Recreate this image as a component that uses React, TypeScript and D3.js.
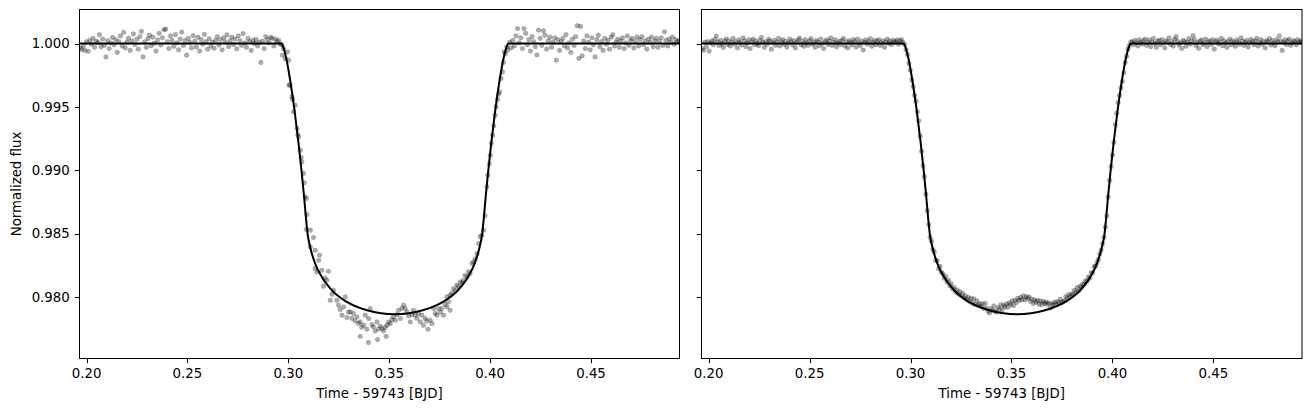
import React from "react";
import * as d3 from "d3";

const W = 1311;
const H = 411;
const FONT = '"DejaVu Sans", "Liberation Sans", sans-serif';

const xTickValues = [0.2, 0.25, 0.3, 0.35, 0.4, 0.45];
const yTickValues = [0.98, 0.985, 0.99, 0.995, 1.0];
const xLimits: [number, number] = [0.1965, 0.49385];
const yLimits: [number, number] = [0.975137, 1.002684];
const xLabel = "Time - 59743 [BJD]";
const yLabel = "Normalized flux";

// transit model
const modelTime = [0.196, 0.2966, 0.2975, 0.299, 0.301, 0.303, 0.305, 0.3065, 0.3078, 0.3088, 0.3096, 0.3108, 0.3133, 0.3166, 0.3216, 0.329, 0.339, 0.3528, 0.3666, 0.3766, 0.384, 0.389, 0.3923, 0.3948, 0.396, 0.3968, 0.3978, 0.3991, 0.4006, 0.4026, 0.4046, 0.4066, 0.4081, 0.409, 0.495];
const modelFlux = [1.0, 1.0, 0.99972, 0.9988, 0.997, 0.9948, 0.9922, 0.99, 0.9879, 0.9861, 0.9849, 0.98394, 0.98263, 0.98157, 0.98052, 0.9796, 0.97894, 0.97863, 0.97894, 0.9796, 0.98052, 0.98157, 0.98263, 0.98394, 0.9849, 0.9861, 0.9879, 0.99, 0.9922, 0.9948, 0.997, 0.9988, 0.99972, 1.0, 1.0];

// left panel observations [time, flux]
const leftObs: [number, number][] = [
  [0.1968,0.99965],[0.1976,0.99952],[0.1984,0.9998],[0.1992,0.99945],[0.2,1.00012],[0.2008,0.99938],[0.2016,1.00025],[0.2024,0.99995],[0.2032,1.0004],[0.204,0.9997],
  [0.2048,1.00018],[0.2056,1.00008],[0.2064,1.0007],[0.2072,0.99975],[0.208,1.00035],[0.2088,0.99985],[0.2096,0.99894],[0.2104,1.00022],[0.2112,0.9996],[0.212,1.00005],
  [0.2128,1.00048],[0.2136,0.9999],[0.2144,1.0003],[0.2152,0.9993],[0.216,1.00015],[0.2168,1.0006],[0.2176,0.9998],[0.2184,1.00088],[0.2192,0.99965],[0.22,1.0001],
  [0.2208,1.00042],[0.2216,0.99945],[0.2224,1.0002],[0.2232,1.00075],[0.224,0.99992],[0.2248,1.00032],[0.2256,0.99955],[0.2264,1.00055],[0.2272,1.00095],[0.228,0.99894],
  [0.2288,1.00012],[0.2296,0.9997],[0.2304,1.00038],[0.2312,1.00065],[0.232,0.99982],[0.2328,1.0005],[0.2336,1.00002],[0.2344,0.9994],[0.2352,1.00028],[0.236,1.0008],
  [0.2368,0.99988],[0.2376,1.00045],[0.2384,1.00108],[0.2392,1.00113],[0.24,1.00015],[0.2408,0.9996],[0.2416,1.0006],[0.2424,1.00025],[0.2432,0.99978],[0.244,1.0007],
  [0.2448,1.00005],[0.2456,0.9995],[0.2464,1.00035],[0.2472,1.0009],[0.248,0.99985],[0.2488,1.00022],[0.2496,0.99908],[0.2504,1.0004],[0.2512,1.00008],[0.252,0.99965],
  [0.2528,1.00062],[0.2536,1.00018],[0.2544,0.99972],[0.2552,1.0005],[0.256,0.9994],[0.2568,1.0003],[0.2576,0.99995],[0.2584,1.00072],[0.2592,1.00015],[0.26,0.99955],
  [0.2608,1.00038],[0.2616,0.9998],[0.2624,1.0001],[0.2632,0.99962],[0.264,1.00025],[0.2648,1.00055],[0.2656,0.99988],[0.2664,1.0003],[0.2672,0.9995],[0.268,1.00045],
  [0.2688,1.00012],[0.2696,1.00068],[0.2704,0.99975],[0.2712,1.0002],[0.272,1.0005],[0.2728,0.99992],[0.2736,1.00035],[0.2744,0.99958],[0.2752,1.0006],[0.276,1.00022],
  [0.2768,0.99985],[0.2776,1.00078],[0.2784,1.00005],[0.2792,0.9997],[0.28,1.0004],[0.2808,1.00015],[0.2816,0.99945],[0.2824,1.00025],[0.2832,1.0],[0.284,1.00032],
  [0.2848,0.9998],[0.2856,1.0001],[0.2864,0.9985],[0.2872,1.00018],[0.288,0.9996],[0.2888,1.00055],[0.2896,1.0003],[0.2904,1.00005],[0.2912,1.00048],[0.292,1.0004],
  [0.2928,0.9998],[0.2936,1.00035],[0.2944,1.00015],[0.2952,1.00025],[0.296,0.99995],
  [0.2968,0.9999],[0.2971,0.99908],[0.2976,0.9996],[0.2984,0.9988],[0.2996,0.99934],[0.3001,0.99868],[0.3003,0.99671],[0.3009,0.99671],[0.3018,0.99578],[0.3021,0.9956],
  [0.3026,0.9946],[0.3034,0.99513],[0.3043,0.99329],[0.3047,0.9928],[0.3051,0.99263],[0.3059,0.99158],[0.3064,0.991],[0.3067,0.99065],[0.3075,0.98974],[0.3079,0.989],
  [0.3084,0.9879],[0.3089,0.98776],
  [0.3089,0.98532],[0.3092,0.9865],[0.3109,0.98526],[0.3125,0.98468],[0.3109,0.98394],[0.3133,0.98368],[0.3155,0.98329],[0.315,0.98289],[0.3133,0.98224],[0.3142,0.98197],
  [0.3166,0.9821],[0.3199,0.98202],[0.3191,0.98131],[0.3174,0.98084],[0.3182,0.9815],[0.3224,0.98052],[0.3208,0.97973],[0.3216,0.9802],[0.3241,0.97973],[0.3249,0.97934],
  [0.3282,0.98],[0.3257,0.979],[0.3266,0.97855],[0.3274,0.9792],[0.329,0.97837],[0.3298,0.9788],[0.3307,0.97881],[0.3315,0.9783],[0.3323,0.97868],[0.3331,0.9781],
  [0.334,0.97842],[0.3348,0.9779],[0.3356,0.97802],[0.3364,0.9776],[0.3373,0.97776],[0.3381,0.97855],[0.3389,0.97745],[0.3406,0.97908],[0.3398,0.97829],[0.3414,0.9778],
  [0.3422,0.97763],[0.343,0.9773],[0.3439,0.97802],[0.3356,0.97689],[0.3397,0.9764],[0.3442,0.97663],[0.3447,0.97745],[0.3455,0.9777],[0.3464,0.9775],[0.3472,0.97731],
  [0.348,0.9776],[0.3485,0.97689],[0.3489,0.97776],[0.3497,0.978],[0.3505,0.97789],[0.3513,0.9782],[0.3521,0.97842],[0.353,0.97815],[0.3538,0.9786],[0.3546,0.97894],
  [0.3555,0.97829],[0.3563,0.9791],[0.3571,0.97934],[0.3579,0.97908],[0.3588,0.97881],[0.3596,0.9785],[0.3604,0.97802],[0.3612,0.9786],[0.362,0.97894],[0.3629,0.97855],
  [0.3637,0.9783],[0.3645,0.97868],[0.3654,0.97802],[0.3662,0.97855],[0.367,0.97776],[0.3678,0.9783],[0.3686,0.9781],[0.3692,0.97744],[0.3703,0.97815],[0.3712,0.97789],
  [0.372,0.97908],[0.3728,0.9787],[0.3736,0.97855],[0.3744,0.97908],[0.3753,0.9788],[0.3761,0.97908],[0.3769,0.97855],[0.3777,0.9794],[0.3786,0.97921],[0.3794,0.9796],
  [0.3786,0.98],[0.3802,0.97894],[0.3802,0.98013],[0.381,0.9803],[0.3819,0.98066],[0.3827,0.9805],[0.3835,0.98092],[0.3843,0.9808],[0.3852,0.98118],[0.386,0.9811],
  [0.3868,0.98131],[0.3876,0.9817],[0.3885,0.98157],[0.3893,0.982],[0.3901,0.98184],[0.391,0.98263],[0.3918,0.98276],[0.3926,0.983],[0.3935,0.98342],[0.3943,0.98421],
  [0.3951,0.98473],[0.3959,0.98487],[0.3967,0.98526],
  [0.3975,0.9864],[0.3984,0.98868],[0.3989,0.9896],[0.3996,0.9905],[0.4001,0.99118],[0.4006,0.99211],[0.4012,0.99276],[0.4018,0.9935],[0.4025,0.99434],[0.403,0.995],
  [0.4037,0.99558],[0.4042,0.996],[0.4047,0.99618],[0.4054,0.99724],[0.4061,0.99776],[0.4066,0.9985],[0.407,0.99934],[0.4076,0.9992],[0.4083,0.99973],[0.4088,0.9995],
  [0.4096,1.0001],[0.4104,0.99965],[0.4112,1.00025],[0.412,0.9998],[0.4128,1.0006],[0.4136,1.00118],[0.4144,1.00005],[0.4152,1.00045],[0.416,0.9996],[0.4168,1.00118],
  [0.4176,1.0008],[0.4184,0.9999],[0.4192,1.0003],[0.42,0.9994],[0.4208,1.00055],[0.4216,1.00015],[0.4224,0.99975],[0.4232,0.9991],[0.424,1.00105],[0.4248,1.0004],
  [0.4256,0.99985],[0.4264,1.001],[0.4272,1.00065],[0.428,0.99955],[0.4288,1.0002],[0.4296,1.0005],[0.4304,0.9997],[0.4312,1.0001],[0.432,1.00045],[0.4328,0.99868],
  [0.4336,1.0003],[0.4344,0.99945],[0.4352,1.00015],[0.436,1.0004],[0.4368,0.9998],[0.4376,1.0007],[0.4384,0.99965],[0.4392,1.00005],[0.44,0.9993],[0.4408,1.00035],
  [0.4416,0.99985],[0.4424,1.00055],[0.4432,1.0014],[0.444,0.99882],[0.4448,1.00135],[0.4456,0.99903],[0.4464,1.0002],[0.4472,0.9996],[0.448,1.0006],[0.4488,1.0001],
  [0.4496,0.9995],[0.4504,1.00045],[0.4512,0.9999],[0.452,0.99894],[0.4528,1.0003],[0.4536,1.00065],[0.4544,0.99975],[0.4552,1.00015],[0.456,0.99945],[0.4568,1.0004],
  [0.4576,0.99995],[0.4584,1.00025],[0.4592,0.99955],[0.46,1.0005],[0.4608,1.0007],[0.4616,0.9998],[0.4624,1.0001],[0.4632,1.00035],[0.464,0.9997],[0.4648,1.0002],
  [0.4656,1.00045],[0.4664,0.9996],[0.4672,1.00005],[0.468,1.0006],[0.4688,0.99985],[0.4696,1.00025],[0.4704,1.0004],[0.4712,0.99965],[0.472,1.00015],[0.4728,1.0005],
  [0.4736,0.9998],[0.4744,1.0003],[0.4752,1.00055],[0.476,0.9999],[0.4768,1.0002],[0.4776,0.99955],[0.4784,1.00035],[0.4792,1.0001],[0.48,1.0005],[0.4808,0.99975],
  [0.4816,1.0002],[0.4824,1.0004],[0.4832,0.9997],[0.484,1.00015],[0.4848,1.00045],[0.4856,0.99985],[0.4864,1.00092],[0.4872,1.00025],[0.488,0.9998],[0.4888,1.00035],
  [0.4896,1.0001],[0.4904,1.0005],[0.4912,0.99995],[0.492,1.0003],[0.4928,1.00015],[0.4936,1.0002],
];

// right panel observations [time, flux]
const rightObs: [number, number][] = [
  [0.1968,0.9996],[0.1975,0.99945],[0.1982,1.0001],[0.1989,0.99975],[0.1996,1.00015],[0.2003,0.9994],[0.201,1.00005],[0.2017,1.0002],[0.2024,0.9999],[0.2031,1.0003],
  [0.2038,1.00058],[0.2045,1.00012],[0.2052,0.99985],[0.2059,1.00025],[0.2066,1.0],[0.2073,0.9997],[0.208,1.00018],[0.2087,1.00035],[0.2094,0.99992],[0.2101,1.00022],
  [0.2108,0.9998],[0.2115,1.0001],[0.2122,1.0004],[0.2129,0.99995],[0.2136,1.00015],[0.2143,0.99965],[0.215,1.00028],[0.2157,1.00008],[0.2164,0.99988],[0.2171,1.00045],
  [0.2178,1.0002],[0.2185,0.99975],[0.2192,1.00005],[0.2199,1.0003],[0.2206,0.9996],[0.2213,1.00015],[0.222,1.00035],[0.2227,0.9999],[0.2234,1.0002],[0.2241,1.0],
  [0.2248,0.99982],[0.2255,1.00025],[0.2262,1.00048],[0.2269,1.0001],[0.2276,0.9997],[0.2283,1.00015],[0.229,0.99995],[0.2297,1.00032],[0.2304,1.0002],[0.2311,0.99955],
  [0.2318,1.00005],[0.2325,1.00025],[0.2332,0.99985],[0.2339,1.0001],[0.2346,1.0004],[0.2353,0.9998],[0.236,1.00012],[0.2367,1.0003],[0.2374,0.99992],[0.2381,1.00018],
  [0.2388,0.99972],[0.2395,1.00005],[0.2402,1.00035],[0.2409,1.00015],[0.2416,0.99988],[0.2423,1.00022],[0.243,0.99965],[0.2437,1.00008],[0.2444,1.00028],[0.2451,1.00042],
  [0.2458,0.9999],[0.2465,1.00015],[0.2472,0.99978],[0.2479,1.0003],[0.2486,1.00005],[0.2493,0.99985],[0.25,1.0002],[0.2507,1.00038],[0.2514,0.99995],[0.2521,1.00012],
  [0.2528,0.9997],[0.2535,1.00025],[0.2542,1.0001],[0.2549,0.99982],[0.2556,1.00035],[0.2563,1.0],[0.257,0.9996],[0.2577,1.00015],[0.2584,1.00028],[0.2591,0.99992],
  [0.2598,1.0002],[0.2605,1.00045],[0.2612,0.99985],[0.2619,1.0001],[0.2626,1.0003],[0.2633,0.99975],[0.264,1.00005],[0.2647,1.00018],[0.2654,0.9999],[0.2661,1.00025],
  [0.2668,1.0004],[0.2675,0.9998],[0.2682,1.00012],[0.2689,0.99965],[0.2696,1.00022],[0.2703,1.00008],[0.271,0.99988],[0.2717,1.0003],[0.2724,1.00015],[0.2731,0.99972],
  [0.2738,1.00035],[0.2745,1.00005],[0.2752,0.99982],[0.2759,1.0002],[0.2766,0.99948],[0.2773,1.0001],[0.278,1.00028],[0.2787,0.99995],[0.2794,1.00015],[0.2801,1.00038],
  [0.2808,0.99978],[0.2815,1.00008],[0.2822,1.00025],[0.2829,0.9999],[0.2836,1.00018],[0.2843,1.0003],[0.285,0.99985],[0.2857,1.00005],[0.2864,1.00022],[0.2871,0.9997],
  [0.2878,1.00012],[0.2885,1.00035],[0.2892,1.0],[0.2899,1.00018],[0.2906,0.99992],[0.2913,1.00025],[0.292,1.0001],[0.2927,1.00015],[0.2934,1.00028],[0.2941,0.99995],
  [0.2948,1.0002],[0.2955,1.0003],[0.2962,1.0001],
  [0.2971,0.99992],[0.2978,0.9995],[0.2985,0.99912],[0.2992,0.99842],[0.2999,0.9979],[0.3006,0.99712],[0.3013,0.9966],[0.302,0.9959],[0.3027,0.99545],[0.3034,0.9946],
  [0.3041,0.9939],[0.3048,0.9927],[0.3055,0.9915],[0.3062,0.99035],[0.3069,0.9895],[0.3076,0.9881],[0.3083,0.9868],
  [0.309,0.9857],[0.3097,0.9847],[0.3104,0.9844],[0.3111,0.98372],[0.3118,0.98355],[0.3125,0.98288],[0.3132,0.98285],[0.3139,0.98222],[0.3146,0.9824],[0.3153,0.98195],
  [0.316,0.98182],[0.3167,0.98148],[0.3174,0.98162],[0.3181,0.98118],[0.3188,0.98132],[0.3195,0.98088],[0.3202,0.98102],[0.3209,0.98062],[0.3216,0.98072],
  [0.3223,0.98038],[0.323,0.98055],[0.3237,0.98022],[0.3244,0.98042],[0.3251,0.98008],[0.3258,0.98028],[0.3265,0.97992],[0.3272,0.98008],[0.3279,0.97978],[0.3286,0.97995],
  [0.3293,0.97962],[0.33,0.97988],[0.3307,0.97948],[0.3314,0.97985],[0.3321,0.97938],[0.3328,0.97968],[0.3335,0.97932],[0.3342,0.97948],[0.3349,0.97925],[0.3356,0.97945],
  [0.3363,0.97908],[0.337,0.97948],[0.3377,0.97912],[0.3384,0.97888],
  [0.3391,0.97872],[0.3398,0.97908],[0.3405,0.97892],[0.3412,0.97928],[0.3419,0.97888],[0.3426,0.97878],[0.3433,0.97918],[0.344,0.97902],[0.3447,0.97938],[0.3454,0.97898],
  [0.3461,0.97932],[0.3468,0.97922],[0.3475,0.97945],[0.3482,0.97918],[0.3489,0.97952],[0.3496,0.97938],[0.3503,0.97968],[0.351,0.97932],[0.3517,0.97972],[0.3524,0.97955],
  [0.3531,0.97988],[0.3538,0.97972],[0.3545,0.97995],[0.3552,0.97978],[0.3559,0.98008],[0.3566,0.97975],[0.3573,0.98002],[0.358,0.97988],[0.3587,0.98],[0.3594,0.97965],
  [0.3601,0.97982],[0.3608,0.97948],[0.3615,0.97975],[0.3622,0.97958],[0.3629,0.97972],[0.3636,0.97942],[0.3643,0.97968],[0.365,0.9794],[0.3657,0.97965],[0.3664,0.97948],
  [0.3671,0.97958],[0.3678,0.97942],[0.3685,0.97952],[0.3692,0.97912],[0.3699,0.97945],[0.3706,0.97938],[0.3713,0.97958],[0.372,0.97942],[0.3727,0.97962],[0.3734,0.97952],
  [0.3741,0.97982],[0.3748,0.97955],[0.3755,0.97962],[0.3762,0.97968],[0.3769,0.98002],[0.3776,0.97988],[0.3783,0.98018],[0.379,0.98002],[0.3797,0.98022],[0.3804,0.98018],
  [0.3811,0.98052],[0.3818,0.98038],[0.3825,0.98072],[0.3832,0.98045],[0.3839,0.98082],[0.3846,0.98075],[0.3853,0.98102],[0.386,0.98098],[0.3867,0.98128],[0.3874,0.98122],
  [0.3881,0.98158],[0.3888,0.98148],[0.3895,0.98192],[0.3902,0.98188],[0.3909,0.98238],[0.3916,0.98242],
  [0.3923,0.9827],[0.393,0.98295],[0.3937,0.9834],[0.3944,0.9837],
  [0.3951,0.9842],[0.3958,0.9847],[0.3965,0.9855],[0.3972,0.9864],[0.3979,0.9879],[0.3986,0.9892],[0.3993,0.9903],[0.4,0.9912],[0.4007,0.9922],[0.4014,0.9936],
  [0.4021,0.9945],[0.4028,0.99535],[0.4035,0.9959],[0.4042,0.9965],[0.4049,0.997],[0.4056,0.9977],[0.4063,0.9985],[0.407,0.999],[0.4077,0.99955],[0.4084,0.99985],
  [0.4091,1.0001],
  [0.4098,1.00015],[0.4105,0.9999],[0.4112,1.00025],[0.4119,1.00005],[0.4126,0.9998],[0.4133,1.0003],[0.414,1.0001],[0.4147,0.99995],[0.4154,1.0002],[0.4161,1.00035],
  [0.4168,0.99985],[0.4175,1.00008],[0.4182,1.00028],[0.4189,0.99975],[0.4196,1.00012],[0.4203,1.0004],[0.421,1.0],[0.4217,0.9997],[0.4224,1.00018],[0.4231,1.00025],
  [0.4238,0.9999],[0.4245,1.0003],[0.4252,1.00005],[0.4259,0.99965],[0.4266,1.00022],[0.4273,1.0001],[0.428,1.00045],[0.4287,0.99992],[0.4294,1.00015],[0.4301,0.9998],
  [0.4308,1.00032],[0.4315,1.00055],[0.4322,1.0002],[0.4329,0.99988],[0.4336,1.00005],[0.4343,0.9996],[0.435,1.00025],[0.4357,1.00015],[0.4364,0.99978],[0.4371,1.0001],
  [0.4378,1.00038],[0.4385,0.99995],[0.4392,1.0002],[0.4399,1.00062],[0.4406,1.0003],[0.4413,0.99985],[0.442,1.00008],[0.4427,0.99962],[0.4434,1.00018],[0.4441,1.00028],
  [0.4448,0.9999],[0.4455,1.00005],[0.4462,1.00035],[0.4469,0.99975],[0.4476,1.00012],[0.4483,1.0002],[0.449,0.99992],[0.4497,1.0003],[0.4504,0.99955],[0.4511,1.00015],
  [0.4518,1.00025],[0.4525,0.99995],[0.4532,1.0001],[0.4539,1.0004],[0.4546,0.99982],[0.4553,1.00022],[0.456,1.00005],[0.4567,0.9997],[0.4574,1.00015],[0.4581,1.00035],
  [0.4588,0.9999],[0.4595,1.0002],[0.4602,1.00008],[0.4609,0.99978],[0.4616,1.00028],[0.4623,1.00012],[0.463,0.99995],[0.4637,1.00045],[0.4644,1.00018],[0.4651,0.99985],
  [0.4658,1.0001],[0.4665,1.00025],[0.4672,0.99972],[0.4679,1.00005],[0.4686,1.00032],[0.4693,1.00015],[0.47,0.9999],[0.4707,1.0002],[0.4714,1.0004],[0.4721,0.9998],
  [0.4728,1.00008],[0.4735,1.0003],[0.4742,0.99995],[0.4749,1.00015],[0.4756,0.99965],[0.4763,1.00022],[0.477,1.0001],[0.4777,1.00038],[0.4784,0.99988],[0.4791,1.00025],
  [0.4798,1.00005],[0.4805,0.99982],[0.4812,1.0003],[0.4819,1.00012],[0.4826,1.0006],[0.4833,1.0002],[0.484,0.99945],[0.4847,1.0001],[0.4854,1.00028],[0.4861,0.99992],
  [0.4868,1.00018],[0.4875,1.00035],[0.4882,0.99985],[0.4889,1.00005],[0.4896,1.00022],[0.4903,1.00015],[0.491,0.9999],[0.4917,1.0003],[0.4924,1.00008],[0.4931,1.0002],
  [0.4938,1.00012],
];

const TOP = 9.5;
const BOTTOM = 358.5;

type PanelSpec = { id: string; left: number; right: number; obs: [number, number][]; showYLabels: boolean };

const panels: PanelSpec[] = [
  { id: "a", left: 79.5, right: 679.5, obs: leftObs, showYLabels: true },
  { id: "b", left: 701.5, right: 1302, obs: rightObs, showYLabels: false },
];

function Panel({ spec }: { spec: PanelSpec }) {
  const x = d3.scaleLinear().domain(xLimits).range([spec.left, spec.right]);
  const y = d3.scaleLinear().domain(yLimits).range([BOTTOM, TOP]);
  const idx = d3.range(modelTime.length);
  const lineGen = d3
    .line<number>()
    .x((i) => x(modelTime[i]))
    .y((i) => y(modelFlux[i]))
    .curve(d3.curveMonotoneX);
  const fmtX = d3.format(".2f");
  const fmtY = d3.format(".3f");
  const clipId = `clip-${spec.id}`;
  const cx = (spec.left + spec.right) / 2;
  return (
    <g>
      <defs>
        <clipPath id={clipId}>
          <rect x={spec.left} y={TOP} width={spec.right - spec.left} height={BOTTOM - TOP} />
        </clipPath>
      </defs>
      <g clipPath={`url(#${clipId})`}>
        {spec.obs.map(([t, f], i) => (
          <circle key={i} cx={x(t)} cy={y(f)} r={2.4} fill="#000" fillOpacity={0.33} stroke="#000" strokeOpacity={0.15} strokeWidth={0.6} />
        ))}
        <path d={lineGen(idx) || ""} fill="none" stroke="#000" strokeWidth={2} strokeLinejoin="round" />
      </g>
      <rect x={spec.left} y={TOP} width={spec.right - spec.left} height={BOTTOM - TOP} fill="none" stroke="#000" strokeWidth={1} />
      {xTickValues.map((v) => (
        <g key={`x${v}`}>
          <line x1={Math.round(x(v)) + 0.5} x2={Math.round(x(v)) + 0.5} y1={BOTTOM} y2={BOTTOM + 4.7} stroke="#000" strokeWidth={1} />
          <text x={x(v)} y={BOTTOM + 19.3} textAnchor="middle" fontFamily={FONT} fontSize={13.33} fill="#000">
            {fmtX(v)}
          </text>
        </g>
      ))}
      {yTickValues.map((v) => (
        <g key={`y${v}`}>
          <line x1={spec.left - 4.7} x2={spec.left} y1={Math.round(y(v)) + 0.5} y2={Math.round(y(v)) + 0.5} stroke="#000" strokeWidth={1} />
          {spec.showYLabels && (
            <text x={spec.left - 9.7} y={y(v) + 4.9} textAnchor="end" fontFamily={FONT} fontSize={13.33} fill="#000">
              {fmtY(v)}
            </text>
          )}
        </g>
      ))}
      <text x={cx} y={398} textAnchor="middle" fontFamily={FONT} fontSize={13.33} fill="#000">
        {xLabel}
      </text>
    </g>
  );
}

export default function App() {
  return (
    <svg width={W} height={H} viewBox={`0 0 ${W} ${H}`} style={{ position: "absolute", left: 0, top: 0, background: "#fff" }}>
      <rect x={0} y={0} width={W} height={H} fill="#fff" />
      {panels.map((p) => (
        <Panel key={p.id} spec={p} />
      ))}
      <text transform={`translate(20.5, ${(TOP + BOTTOM) / 2}) rotate(-90)`} textAnchor="middle" fontFamily={FONT} fontSize={13.33} fill="#000">
        {yLabel}
      </text>
    </svg>
  );
}
